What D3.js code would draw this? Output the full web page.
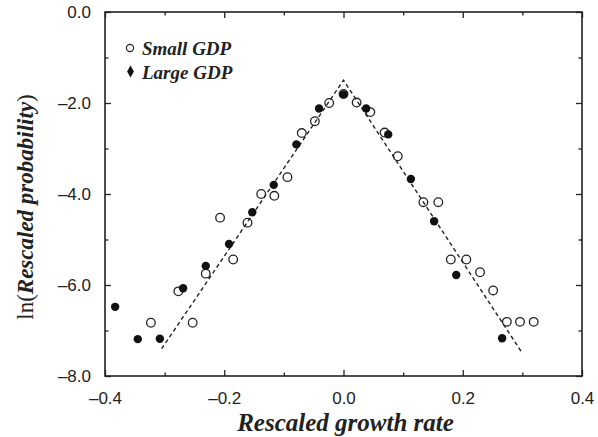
<!DOCTYPE html>
<html>
<head>
<meta charset="utf-8">
<script src="https://cdn.jsdelivr.net/npm/d3@7"></script>
<style>
  html, body { margin: 0; padding: 0; background: #fff; }
  svg { display: block; }
  .tick text { font-family: "Liberation Sans", Arial, sans-serif; font-size: 17px; fill: #222; }
  .axis path, .axis line { stroke: #222; }
</style>
</head>
<body>
<div id="chart"></div>
<script>
(function () {
  // rescaled growth rate (x) and ln(rescaled probability) (y)
  const smallX = [-0.323, -0.277, -0.253, -0.231, -0.207, -0.185, -0.161, -0.138, -0.116, -0.094,
    -0.070, -0.048, -0.024, 0.000, 0.022, 0.045, 0.069, 0.091, 0.134, 0.159,
    0.180, 0.206, 0.229, 0.251, 0.274, 0.296, 0.319];
  const smallY = [-6.83, -6.14, -6.83, -5.75, -4.52, -5.44, -4.63, -4.00, -4.04, -3.63,
    -2.66, -2.40, -2.00, -1.80, -1.99, -2.20, -2.65, -3.17, -4.18, -4.18,
    -5.44, -5.44, -5.72, -6.12, -6.81, -6.81, -6.81];

  const largeX = [-0.383, -0.345, -0.308, -0.269, -0.231, -0.192, -0.153, -0.117, -0.079,
    -0.041, 0.000, 0.038, 0.075, 0.113, 0.152, 0.189, 0.266];
  const largeY = [-6.48, -7.19, -7.18, -6.07, -5.58, -5.10, -4.40, -3.80, -2.91,
    -2.12, -1.81, -2.12, -2.69, -3.67, -4.60, -5.78, -7.17];

  // fitted tent line
  const fitX = [-0.305, 0.0, 0.300];
  const fitY = [-7.40, -1.50, -7.50];

  const seriesNames = ["Small GDP", "Large GDP"];

  const xTicks = [-0.4, -0.2, 0.0, 0.2, 0.4];
  const xTickLabels = ["\u20130.4", "\u20130.2", "0.0", "0.2", "0.4"];
  const xMinor = [-0.3, -0.1, 0.1, 0.3];
  const yTicks = [0.0, -2.0, -4.0, -6.0, -8.0];
  const yTickLabels = ["0.0", "\u20132.0", "\u20134.0", "\u20136.0", "\u20138.0"];
  const yMinor = [-1.0, -3.0, -5.0, -7.0];

  const W = 598, H = 437;
  const left = 105, right = 582, top = 12, bottom = 376;
  const ink = "#222";

  const x = d3.scaleLinear().domain([-0.4, 0.4]).range([left, right]);
  const y = d3.scaleLinear().domain([-8, 0]).range([bottom, top]);

  const svg = d3.select("#chart").append("svg")
    .attr("width", W).attr("height", H);

  svg.append("rect").attr("width", W).attr("height", H).attr("fill", "#fff");

  // axes, ticks pointing inward on all four sides
  const fmtX = (d) => xTickLabels[xTicks.indexOf(d)];
  const fmtY = (d) => yTickLabels[yTicks.indexOf(d)];

  svg.append("g").attr("class", "axis")
    .attr("transform", `translate(0,${bottom})`)
    .call(d3.axisBottom(x).tickValues(xTicks).tickFormat(fmtX)
      .tickSizeInner(-6).tickSizeOuter(0).tickPadding(16));
  svg.append("g").attr("class", "axis")
    .attr("transform", `translate(0,${bottom})`)
    .call(d3.axisBottom(x).tickValues(xMinor).tickFormat("").tickSizeInner(-3.5).tickSizeOuter(0));
  svg.append("g").attr("class", "axis")
    .attr("transform", `translate(0,${top})`)
    .call(d3.axisTop(x).tickValues(xTicks).tickFormat("").tickSizeInner(-6).tickSizeOuter(0));
  svg.append("g").attr("class", "axis")
    .attr("transform", `translate(0,${top})`)
    .call(d3.axisTop(x).tickValues(xMinor).tickFormat("").tickSizeInner(-3.5).tickSizeOuter(0));

  svg.append("g").attr("class", "axis")
    .attr("transform", `translate(${left},0)`)
    .call(d3.axisLeft(y).tickValues(yTicks).tickFormat(fmtY)
      .tickSizeInner(-6).tickSizeOuter(0).tickPadding(14));
  svg.append("g").attr("class", "axis")
    .attr("transform", `translate(${left},0)`)
    .call(d3.axisLeft(y).tickValues(yMinor).tickFormat("").tickSizeInner(-3.5).tickSizeOuter(0));
  svg.append("g").attr("class", "axis")
    .attr("transform", `translate(${right},0)`)
    .call(d3.axisRight(y).tickValues(yTicks).tickFormat("").tickSizeInner(-6).tickSizeOuter(0));
  svg.append("g").attr("class", "axis")
    .attr("transform", `translate(${right},0)`)
    .call(d3.axisRight(y).tickValues(yMinor).tickFormat("").tickSizeInner(-3.5).tickSizeOuter(0));

  svg.selectAll(".axis .domain").remove();
  svg.selectAll(".axis line").attr("stroke-width", 1.3);

  // frame
  svg.append("rect")
    .attr("x", left).attr("y", top)
    .attr("width", right - left).attr("height", bottom - top)
    .attr("fill", "none").attr("stroke", ink).attr("stroke-width", 1.6);

  // dashed fit
  const line = d3.line().x((d) => x(d[0])).y((d) => y(d[1]));
  svg.append("path")
    .datum(d3.zip(fitX, fitY))
    .attr("d", line)
    .attr("fill", "none")
    .attr("stroke", ink)
    .attr("stroke-width", 1.4)
    .attr("stroke-dasharray", "4,3");

  // markers
  svg.append("g").selectAll("circle")
    .data(d3.zip(smallX, smallY))
    .enter().append("circle")
    .attr("cx", (d) => x(d[0]))
    .attr("cy", (d) => y(d[1]))
    .attr("r", 4.3)
    .attr("fill", "none")
    .attr("stroke", ink)
    .attr("stroke-width", 1.3);

  svg.append("g").selectAll("circle")
    .data(d3.zip(largeX, largeY))
    .enter().append("circle")
    .attr("cx", (d) => x(d[0]))
    .attr("cy", (d) => y(d[1]))
    .attr("r", 4.2)
    .attr("fill", "#111");

  // legend
  const serif = "'Liberation Serif', 'Times New Roman', serif";
  const lg = svg.append("g");
  lg.append("circle").attr("cx", 130).attr("cy", 48).attr("r", 3.6)
    .attr("fill", "none").attr("stroke", ink).attr("stroke-width", 1.2);
  lg.append("path").attr("transform", "translate(130.5,71.5)")
    .attr("d", d3.symbol(d3.symbolDiamond, 40)()).attr("fill", "#111");
  lg.selectAll("text").data(seriesNames).enter().append("text")
    .attr("x", 142)
    .attr("y", (d, i) => 55 + i * 23.5)
    .attr("font-family", serif)
    .attr("font-weight", "bold")
    .attr("font-style", "italic")
    .attr("font-size", 19)
    .attr("fill", ink)
    .text((d) => d);

  // axis titles
  svg.append("text")
    .attr("x", (left + right) / 2 + 2)
    .attr("y", 431)
    .attr("text-anchor", "middle")
    .attr("font-family", serif)
    .attr("font-weight", "bold")
    .attr("font-style", "italic")
    .attr("font-size", 25)
    .attr("fill", ink)
    .text("Rescaled growth rate");

  const yt = svg.append("text")
    .attr("transform", "translate(33,207) rotate(-90)")
    .attr("text-anchor", "middle")
    .attr("font-family", serif)
    .attr("font-size", 23)
    .attr("fill", ink);
  yt.append("tspan").text("ln(");
  yt.append("tspan").attr("font-weight", "bold").attr("font-style", "italic").text("Rescaled probability");
  yt.append("tspan").text(")");
})();
</script>
</body>
</html>
